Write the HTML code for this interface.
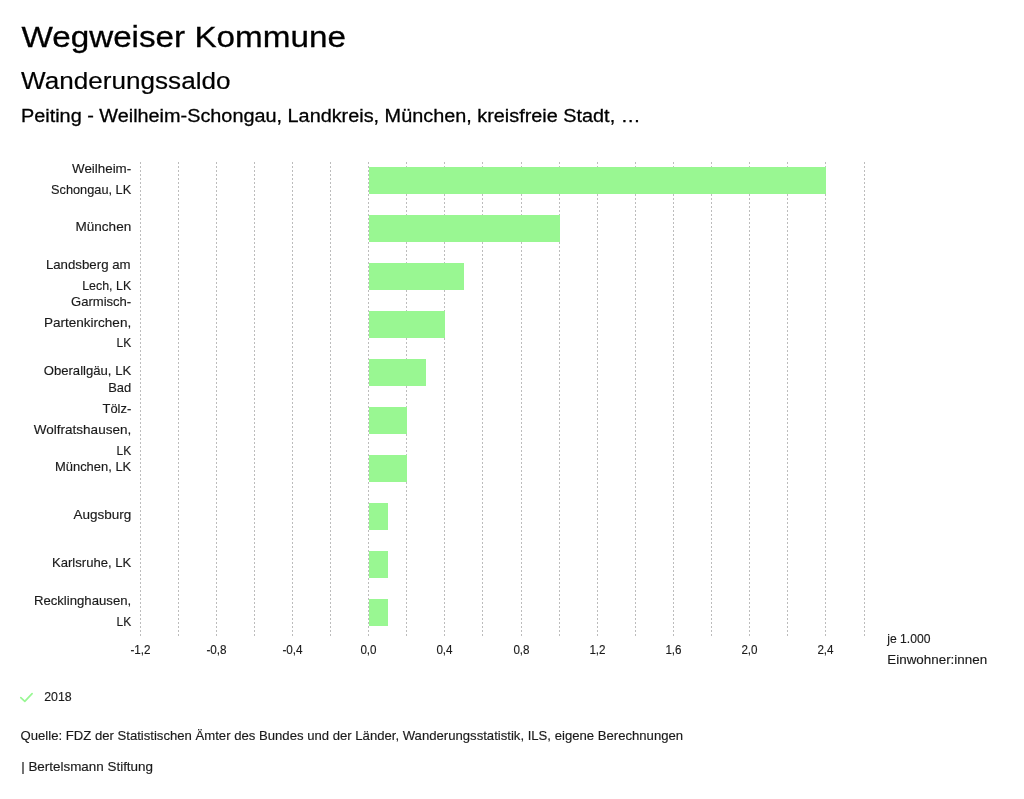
<!DOCTYPE html>
<html lang="de"><head><meta charset="utf-8"><title>Wegweiser Kommune - Wanderungssaldo</title>
<style>html,body{margin:0;padding:0;background:#fff}body{width:1024px;height:799px;overflow:hidden;font-family:"Liberation Sans", sans-serif}svg{display:block;will-change:transform}text{font-family:"Liberation Sans", sans-serif}</style>
</head><body>
<svg width="1024" height="799" viewBox="0 0 1024 799">
<g stroke="#bcbcbc" stroke-width="1" stroke-dasharray="2,2" fill="none">
<line x1="140.5" y1="162" x2="140.5" y2="636"/>
<line x1="178.5" y1="162" x2="178.5" y2="636"/>
<line x1="216.5" y1="162" x2="216.5" y2="636"/>
<line x1="254.5" y1="162" x2="254.5" y2="636"/>
<line x1="292.5" y1="162" x2="292.5" y2="636"/>
<line x1="330.5" y1="162" x2="330.5" y2="636"/>
<line x1="368.5" y1="162" x2="368.5" y2="636"/>
<line x1="406.5" y1="162" x2="406.5" y2="636"/>
<line x1="444.5" y1="162" x2="444.5" y2="636"/>
<line x1="482.5" y1="162" x2="482.5" y2="636"/>
<line x1="521.5" y1="162" x2="521.5" y2="636"/>
<line x1="559.5" y1="162" x2="559.5" y2="636"/>
<line x1="597.5" y1="162" x2="597.5" y2="636"/>
<line x1="635.5" y1="162" x2="635.5" y2="636"/>
<line x1="673.5" y1="162" x2="673.5" y2="636"/>
<line x1="711.5" y1="162" x2="711.5" y2="636"/>
<line x1="749.5" y1="162" x2="749.5" y2="636"/>
<line x1="787.5" y1="162" x2="787.5" y2="636"/>
<line x1="825.5" y1="162" x2="825.5" y2="636"/>
<line x1="864.5" y1="162" x2="864.5" y2="636"/>
</g>
<g fill="#99f792">
<rect x="369" y="167" width="457" height="27"/>
<rect x="369" y="215" width="191" height="27"/>
<rect x="369" y="263" width="95" height="27"/>
<rect x="369" y="311" width="76" height="27"/>
<rect x="369" y="359" width="57" height="27"/>
<rect x="369" y="407" width="38" height="27"/>
<rect x="369" y="455" width="38" height="27"/>
<rect x="369" y="503" width="19" height="27"/>
<rect x="369" y="551" width="19" height="27"/>
<rect x="369" y="599" width="19" height="27"/>
</g>
<path d="M20.8 697.6 L24.8 701.3 L32.1 693.7" fill="none" stroke="#98f793" stroke-width="1.7" stroke-linecap="round" stroke-linejoin="round"/>
<text x="21.40" y="47.40" font-size="30" fill="#000" textLength="324.50" lengthAdjust="spacingAndGlyphs" stroke="#000" stroke-width="0.3">Wegweiser Kommune</text>
<text x="21.00" y="88.80" font-size="24.5" fill="#000" textLength="209.50" lengthAdjust="spacingAndGlyphs" stroke="#000" stroke-width="0.2">Wanderungssaldo</text>
<text x="21.00" y="121.70" font-size="17.5" fill="#000" textLength="619.50" lengthAdjust="spacingAndGlyphs" stroke="#000" stroke-width="0.28">Peiting - Weilheim-Schongau, Landkreis, München, kreisfreie Stadt, …</text>
<text x="131.20" y="172.80" font-size="13" fill="#1a1a1a" text-anchor="end" textLength="59.20" lengthAdjust="spacingAndGlyphs" stroke="#1a1a1a" stroke-width="0.15">Weilheim-</text>
<text x="131.20" y="194.00" font-size="13" fill="#1a1a1a" text-anchor="end" textLength="80.20" lengthAdjust="spacingAndGlyphs" stroke="#1a1a1a" stroke-width="0.15">Schongau, LK</text>
<text x="131.20" y="230.70" font-size="13" fill="#1a1a1a" text-anchor="end" textLength="55.70" lengthAdjust="spacingAndGlyphs" stroke="#1a1a1a" stroke-width="0.15">München</text>
<text x="130.60" y="268.80" font-size="13" fill="#1a1a1a" text-anchor="end" textLength="84.70" lengthAdjust="spacingAndGlyphs" stroke="#1a1a1a" stroke-width="0.15">Landsberg am</text>
<text x="131.20" y="289.80" font-size="13" fill="#1a1a1a" text-anchor="end" textLength="49.00" lengthAdjust="spacingAndGlyphs" stroke="#1a1a1a" stroke-width="0.15">Lech, LK</text>
<text x="131.20" y="305.70" font-size="13" fill="#1a1a1a" text-anchor="end" textLength="60.20" lengthAdjust="spacingAndGlyphs" stroke="#1a1a1a" stroke-width="0.15">Garmisch-</text>
<text x="131.20" y="326.60" font-size="13" fill="#1a1a1a" text-anchor="end" textLength="87.30" lengthAdjust="spacingAndGlyphs" stroke="#1a1a1a" stroke-width="0.15">Partenkirchen,</text>
<text x="131.20" y="347.40" font-size="13" fill="#1a1a1a" text-anchor="end" textLength="14.70" lengthAdjust="spacingAndGlyphs" stroke="#1a1a1a" stroke-width="0.15">LK</text>
<text x="131.20" y="374.70" font-size="13" fill="#1a1a1a" text-anchor="end" textLength="87.50" lengthAdjust="spacingAndGlyphs" stroke="#1a1a1a" stroke-width="0.15">Oberallgäu, LK</text>
<text x="131.20" y="391.50" font-size="13" fill="#1a1a1a" text-anchor="end" textLength="23.00" lengthAdjust="spacingAndGlyphs" stroke="#1a1a1a" stroke-width="0.15">Bad</text>
<text x="131.20" y="412.60" font-size="13" fill="#1a1a1a" text-anchor="end" textLength="28.70" lengthAdjust="spacingAndGlyphs" stroke="#1a1a1a" stroke-width="0.15">Tölz-</text>
<text x="131.20" y="433.70" font-size="13" fill="#1a1a1a" text-anchor="end" textLength="97.40" lengthAdjust="spacingAndGlyphs" stroke="#1a1a1a" stroke-width="0.15">Wolfratshausen,</text>
<text x="131.20" y="454.60" font-size="13" fill="#1a1a1a" text-anchor="end" textLength="14.70" lengthAdjust="spacingAndGlyphs" stroke="#1a1a1a" stroke-width="0.15">LK</text>
<text x="131.20" y="471.10" font-size="13" fill="#1a1a1a" text-anchor="end" textLength="76.20" lengthAdjust="spacingAndGlyphs" stroke="#1a1a1a" stroke-width="0.15">München, LK</text>
<text x="131.20" y="518.70" font-size="13" fill="#1a1a1a" text-anchor="end" textLength="57.70" lengthAdjust="spacingAndGlyphs" stroke="#1a1a1a" stroke-width="0.15">Augsburg</text>
<text x="131.20" y="566.80" font-size="13" fill="#1a1a1a" text-anchor="end" textLength="79.20" lengthAdjust="spacingAndGlyphs" stroke="#1a1a1a" stroke-width="0.15">Karlsruhe, LK</text>
<text x="131.20" y="604.80" font-size="13" fill="#1a1a1a" text-anchor="end" textLength="97.30" lengthAdjust="spacingAndGlyphs" stroke="#1a1a1a" stroke-width="0.15">Recklinghausen,</text>
<text x="131.20" y="625.90" font-size="13" fill="#1a1a1a" text-anchor="end" textLength="14.70" lengthAdjust="spacingAndGlyphs" stroke="#1a1a1a" stroke-width="0.15">LK</text>
<text x="140.50" y="654.10" font-size="13" fill="#1a1a1a" text-anchor="middle" textLength="20.20" lengthAdjust="spacingAndGlyphs" stroke="#1a1a1a" stroke-width="0.15">-1,2</text>
<text x="216.50" y="654.10" font-size="13" fill="#1a1a1a" text-anchor="middle" textLength="20.20" lengthAdjust="spacingAndGlyphs" stroke="#1a1a1a" stroke-width="0.15">-0,8</text>
<text x="292.50" y="654.10" font-size="13" fill="#1a1a1a" text-anchor="middle" textLength="20.20" lengthAdjust="spacingAndGlyphs" stroke="#1a1a1a" stroke-width="0.15">-0,4</text>
<text x="368.50" y="654.10" font-size="13" fill="#1a1a1a" text-anchor="middle" textLength="16.20" lengthAdjust="spacingAndGlyphs" stroke="#1a1a1a" stroke-width="0.15">0,0</text>
<text x="444.50" y="654.10" font-size="13" fill="#1a1a1a" text-anchor="middle" textLength="16.20" lengthAdjust="spacingAndGlyphs" stroke="#1a1a1a" stroke-width="0.15">0,4</text>
<text x="521.50" y="654.10" font-size="13" fill="#1a1a1a" text-anchor="middle" textLength="16.20" lengthAdjust="spacingAndGlyphs" stroke="#1a1a1a" stroke-width="0.15">0,8</text>
<text x="597.50" y="654.10" font-size="13" fill="#1a1a1a" text-anchor="middle" textLength="16.20" lengthAdjust="spacingAndGlyphs" stroke="#1a1a1a" stroke-width="0.15">1,2</text>
<text x="673.50" y="654.10" font-size="13" fill="#1a1a1a" text-anchor="middle" textLength="16.20" lengthAdjust="spacingAndGlyphs" stroke="#1a1a1a" stroke-width="0.15">1,6</text>
<text x="749.50" y="654.10" font-size="13" fill="#1a1a1a" text-anchor="middle" textLength="16.20" lengthAdjust="spacingAndGlyphs" stroke="#1a1a1a" stroke-width="0.15">2,0</text>
<text x="825.50" y="654.10" font-size="13" fill="#1a1a1a" text-anchor="middle" textLength="16.20" lengthAdjust="spacingAndGlyphs" stroke="#1a1a1a" stroke-width="0.15">2,4</text>
<text x="887.30" y="643.00" font-size="13" fill="#1a1a1a" textLength="43.20" lengthAdjust="spacingAndGlyphs" stroke="#1a1a1a" stroke-width="0.15">je 1.000</text>
<text x="887.30" y="663.70" font-size="13" fill="#1a1a1a" textLength="99.80" lengthAdjust="spacingAndGlyphs" stroke="#1a1a1a" stroke-width="0.15">Einwohner:innen</text>
<text x="44.20" y="700.80" font-size="13" fill="#1a1a1a" textLength="27.50" lengthAdjust="spacingAndGlyphs" stroke="#1a1a1a" stroke-width="0.15">2018</text>
<text x="20.50" y="739.90" font-size="13" fill="#1a1a1a" textLength="662.60" lengthAdjust="spacingAndGlyphs" stroke="#1a1a1a" stroke-width="0.15">Quelle: FDZ der Statistischen Ämter des Bundes und der Länder, Wanderungsstatistik, ILS, eigene Berechnungen</text>
<text x="21.20" y="771.10" font-size="13" fill="#1a1a1a" textLength="131.80" lengthAdjust="spacingAndGlyphs" stroke="#1a1a1a" stroke-width="0.15">| Bertelsmann Stiftung</text>
</svg></body></html>
